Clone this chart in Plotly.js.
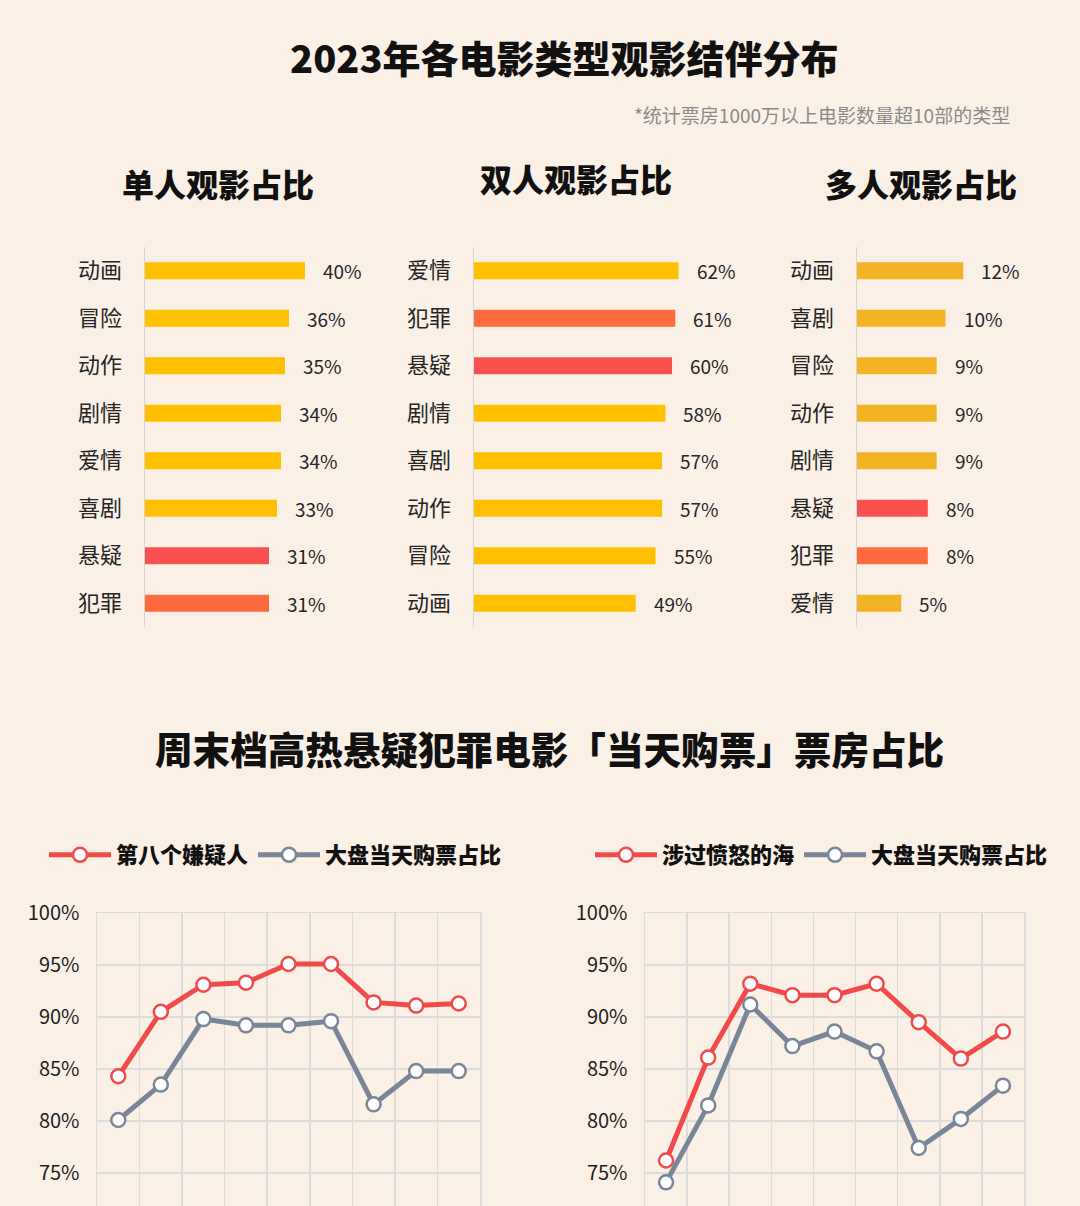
<!DOCTYPE html>
<html>
<head>
<meta charset="utf-8">
<script src="https://cdn.plot.ly/plotly-3.0.1.min.js"></script>
<style>
  html, body { margin: 0; padding: 0; background: #fbf0e6; }
  #chart { width: 1080px; height: 1206px; }
</style>
</head>
<body>
<div id="chart"></div>
<script>
// 2023 viewing company by genre (top) and same-day ticket share (bottom)
const solo_genres = ['动画', '冒险', '动作', '剧情', '爱情', '喜剧', '悬疑', '犯罪'];
const solo_share = [40, 36, 35, 34, 34, 33, 31, 31];
const pair_genres = ['爱情', '犯罪', '悬疑', '剧情', '喜剧', '动作', '冒险', '动画'];
const pair_share = [62, 61, 60, 58, 57, 57, 55, 49];
const group_genres = ['动画', '喜剧', '冒险', '动作', '剧情', '悬疑', '犯罪', '爱情'];
const group_share = [12, 10, 9, 9, 9, 8, 8, 5];

// x labels sit below the visible area in the picture
const days = ['1', '2', '3', '4', '5', '6', '7', '8', '9'];
const suspect_share = [84.3, 90.5, 93.1, 93.3, 95.1, 95.1, 91.4, 91.1, 91.3];
const market_a = [80.1, 83.5, 89.8, 89.2, 89.2, 89.6, 81.6, 84.8, 84.8];
const sea_share = [76.2, 86.1, 93.2, 92.1, 92.1, 93.2, 89.5, 86.0, 88.6];
const market_b = [74.1, 81.5, 91.2, 87.2, 88.6, 86.7, 77.4, 80.2, 83.4];

const W = 1080, H = 1206;
const px = v => v / W;
const py = v => 1 - v / H;

const FONT = '"Noto Sans CJK SC", "Noto Sans", sans-serif';
const RED = '#f04a4a';
const GREY = '#7a8698';
const GRID = '#dcdcdc';

const genre_colour = function (g, yellow) {
    if (g === '悬疑') return '#fa5050';
    if (g === '犯罪') return '#ff6b3e';
    return yellow;
};

const bar_trace = function (genres, shares, n, yellow) {
    return {
        type: 'bar',
        orientation: 'h',
        x: shares,
        y: genres,
        xaxis: 'x' + (n === 1 ? '' : n),
        yaxis: 'y' + (n === 1 ? '' : n),
        marker: { color: genres.map(g => genre_colour(g, yellow)) },
        hoverinfo: 'skip',
        showlegend: false
    };
};

const value_labels = function (genres, shares, n) {
    const suffix = n === 1 ? '' : n;
    return shares.map((v, i) => ({
        x: v, y: genres[i], xref: 'x' + suffix, yref: 'y' + suffix,
        text: v + '%', showarrow: false, xanchor: 'left', xshift: 16,
        font: { family: FONT, size: 19, color: '#262626' }
    }));
};

const line_trace = function (vals, name, colour, n, legend) {
    return {
        type: 'scatter',
        mode: 'lines+markers',
        x: days,
        y: vals,
        name: name,
        xaxis: 'x' + n,
        yaxis: 'y' + n,
        legend: legend,
        line: { color: colour, width: 5 },
        marker: { symbol: 'circle', size: 14, color: '#ffffff', line: { color: colour, width: 2.5 } },
        hoverinfo: 'skip'
    };
};

const traces = [
    bar_trace(solo_genres, solo_share, 1, '#ffc000'),
    bar_trace(pair_genres, pair_share, 2, '#ffc000'),
    bar_trace(group_genres, group_share, 3, '#f2b324'),
    line_trace(suspect_share, '第八个嫌疑人', RED, 4, 'legend'),
    line_trace(market_a, '大盘当天购票占比', GREY, 4, 'legend'),
    line_trace(sea_share, '涉过愤怒的海', RED, 5, 'legend2'),
    line_trace(market_b, '大盘当天购票占比', GREY, 5, 'legend2')
];

const bar_y = {
    type: 'category', autorange: 'reversed',
    domain: [py(627), py(247)],
    showline: true, linecolor: '#d6d6d6', linewidth: 1.5,
    showgrid: false, zeroline: false, ticks: '',
    ticklabelstandoff: 17,
    tickfont: { family: FONT, size: 22, color: '#262626' },
    fixedrange: true
};
const bar_x = (x0, x1, max) => ({
    domain: [px(x0), px(x1)], range: [0, max],
    visible: false, fixedrange: true
});

const line_x = (x0, x1) => ({
    domain: [px(x0), px(x1)], type: 'category', range: [-0.5, 8.5],
    tickson: 'boundaries', showgrid: true, gridcolor: GRID, gridwidth: 1.5,
    showline: true, mirror: true, linecolor: GRID, linewidth: 1.5,
    showticklabels: false, ticks: '', zeroline: false, fixedrange: true
});
const line_y = {
    domain: [0, py(913)], range: [100 - (H - 913) / 10.4, 100],
    dtick: 5, tick0: 0, ticksuffix: '%',
    showgrid: true, gridcolor: GRID, gridwidth: 1.5,
    showline: true, mirror: true, linecolor: GRID, linewidth: 1.5,
    zeroline: false, ticks: '', ticklabelstandoff: 12,
    tickfont: { family: FONT, size: 20, color: '#1e1e1e' },
    fixedrange: true
};

const title_note = (x, y, text, size, extra) => Object.assign({
    x: px(x), y: py(y), xref: 'paper', yref: 'paper',
    text: text, showarrow: false, xanchor: 'center', yanchor: 'middle',
    font: { family: FONT, size: size, color: '#111111', weight: 900 }
}, extra || {});

const annotations = [
    title_note(564, 57, '2023年各电影类型观影结伴分布', 38),
    title_note(1012, 115, '*统计票房1000万以上电影数量超10部的类型', 19,
        { xanchor: 'right', font: { family: FONT, size: 19, color: '#8a8a8a' } }),
    title_note(218, 183, '单人观影占比', 32),
    title_note(576, 178, '双人观影占比', 32),
    title_note(921, 183, '多人观影占比', 32),
    title_note(549, 748, '周末档高热悬疑犯罪电影「当天购票」票房占比', 37.6),
    ...value_labels(solo_genres, solo_share, 1),
    ...value_labels(pair_genres, pair_share, 2),
    ...value_labels(group_genres, group_share, 3)
];

const legend_style = (x) => ({
    orientation: 'h', x: px(x), y: py(855), xanchor: 'left', yanchor: 'middle',
    bgcolor: 'rgba(0,0,0,0)', itemclick: false, itemdoubleclick: false,
    itemwidth: 62,
    font: { family: FONT, size: 22, color: '#111111', weight: 900 },
    tracegroupgap: 0
});

const layout = {
    width: W, height: H,
    margin: { l: 0, r: 0, t: 0, b: 0, pad: 0 },
    paper_bgcolor: '#fbf0e6',
    plot_bgcolor: 'rgba(0,0,0,0)',
    bargap: 0.64,
    xaxis: bar_x(145, 385, 60),
    yaxis: Object.assign({}, bar_y, { anchor: 'x' }),
    xaxis2: Object.assign(bar_x(474, 738, 80), { anchor: 'y2' }),
    yaxis2: Object.assign({}, bar_y, { anchor: 'x2' }),
    xaxis3: Object.assign(bar_x(857, 1034, 20), { anchor: 'y3' }),
    yaxis3: Object.assign({}, bar_y, { anchor: 'x3' }),
    xaxis4: Object.assign(line_x(97, 480), { anchor: 'y4' }),
    yaxis4: Object.assign({}, line_y, { anchor: 'x4' }),
    xaxis5: Object.assign(line_x(645, 1024), { anchor: 'y5' }),
    yaxis5: Object.assign({}, line_y, { anchor: 'x5' }),
    legend: legend_style(44),
    legend2: legend_style(590),
    annotations: annotations,
    showlegend: true
};

const config = { displayModeBar: false, staticPlot: true };

Plotly.newPlot('chart', traces, layout, config);
</script>
</body>
</html>
